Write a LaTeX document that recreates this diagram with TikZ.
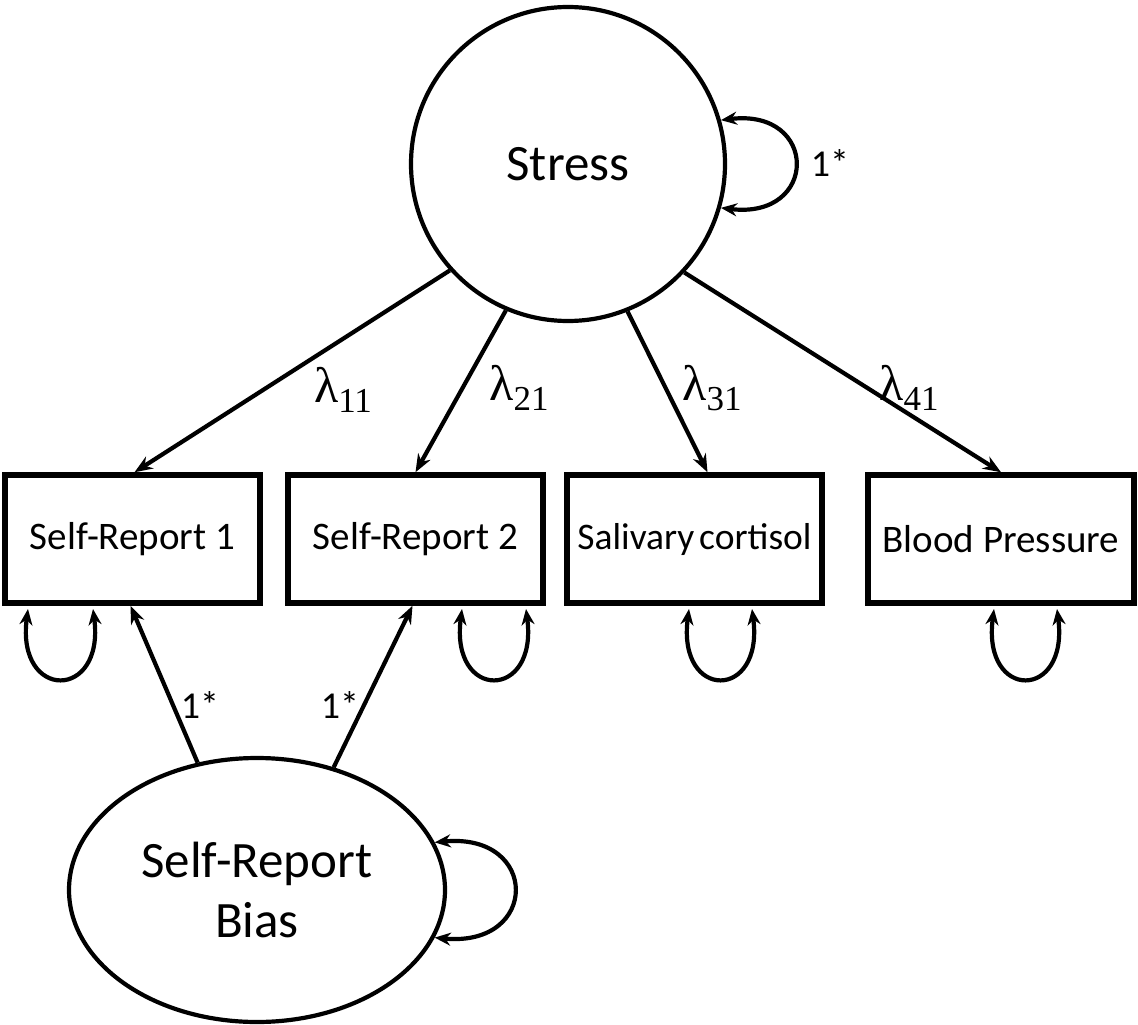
\documentclass[tikz,border=0pt]{standalone}
\usepackage{fontspec}
\setmainfont{Carlito}
\newfontfamily\lamfont{Liberation Serif}
\usetikzlibrary{arrows.meta,shapes.geometric,calc}
\newcommand{\lamb}[1]{{\lamfont\fontsize{50}{50}\selectfont λ\raisebox{-10pt}{\fontsize{35}{35}\selectfont #1}}}
\begin{document}
\begin{tikzpicture}[x=1pt,y=-1pt,
  arr/.style={line width=4.2pt,-{Stealth[length=18pt,width=14pt]}},
  dbl/.style={line width=4.2pt,{Stealth[length=16pt,width=13pt]}-{Stealth[length=16pt,width=13pt]}},
  obs/.style={draw,line width=5.5pt,rectangle,minimum width=255pt,minimum height=128pt,inner sep=0pt,font=\fontsize{39}{42}\selectfont},
  lat/.style={draw,line width=4.2pt,inner sep=0pt,align=center},
  lab/.style={font=\fontsize{38}{40}\selectfont,inner sep=0pt},
  lam/.style={inner sep=0pt}]
\useasboundingbox[fill=white] (0,0) rectangle (1138,1025);
% latent variables
\node[lat,circle,minimum size=314pt,font=\fontsize{51}{55}\selectfont] (stress) at (568,164) {Stress};
\node[lat,ellipse,minimum width=376pt,minimum height=264pt,font=\fontsize{51}{60}\selectfont] (bias) at (257,890) {Self-Report\\Bias};
% observed
\node[obs] (b1) at (132.5,539) {Self-Report 1};
\node[obs] (b2) at (415.5,539) {Self-Report 2};
\node[obs,font=\fontsize{37.5}{40}\selectfont] (b3) at (694.5,539) {Salivary\hspace{0.13em}cortisol};
\node[obs,minimum width=266pt] (b4) at (1001,539) {Blood Pressure};
% loadings
\draw[arr] (stress.222.7) -- ($(b1.north)+(2,0)$);
\draw[arr] (stress.247) -- (b2.north);
\draw[arr] (stress.292.6) -- ($(b3.north)+(13,0)$);
\draw[arr] (stress.317.5) -- (b4.north);
\node[lam] (l11) at (343,390) {\lamb{11}};
\node[lam] (l21) at (519,388) {\lamb{21}};
\node[lam] (l31) at (712,388) {\lamb{31}};
\node[lam] (l41) at (909,388) {\lamb{41}};
% bias loadings
\draw[arr] (bias.115.5) -- ($(b1.south)+(-2,0)$);
\draw[arr] (bias.58) -- ($(b2.south)+(-3,0)$);
\node[lab] (s1) at (200,705) {1*};
\node[lab] (s2) at (340,705) {1*};
% variances
\coordinate (v1a) at (28,609); \coordinate (v1b) at (93,609);
\coordinate (v2a) at (462,609); \coordinate (v2b) at (526,609);
\coordinate (v3a) at (689,609); \coordinate (v3b) at (752,609);
\coordinate (v4a) at (994,609); \coordinate (v4b) at (1057,609);
\draw[dbl] (v1a) .. controls +(-12,92) and +(12,92) .. (v1b);
\draw[dbl] (v2a) .. controls +(-12,92) and +(12,92) .. (v2b);
\draw[dbl] (v3a) .. controls +(-12,92) and +(12,92) .. (v3b);
\draw[dbl] (v4a) .. controls +(-12,92) and +(12,92) .. (v4b);
\draw[dbl] (stress.16) .. controls +(98,-12) and +(98,12) .. (stress.-16);
\node[lab] (s0) at (830,163) {1*};
\draw[dbl] (bias.15) .. controls +(105,-10) and +(105,10) .. (bias.-15);
\end{tikzpicture}
\end{document}
